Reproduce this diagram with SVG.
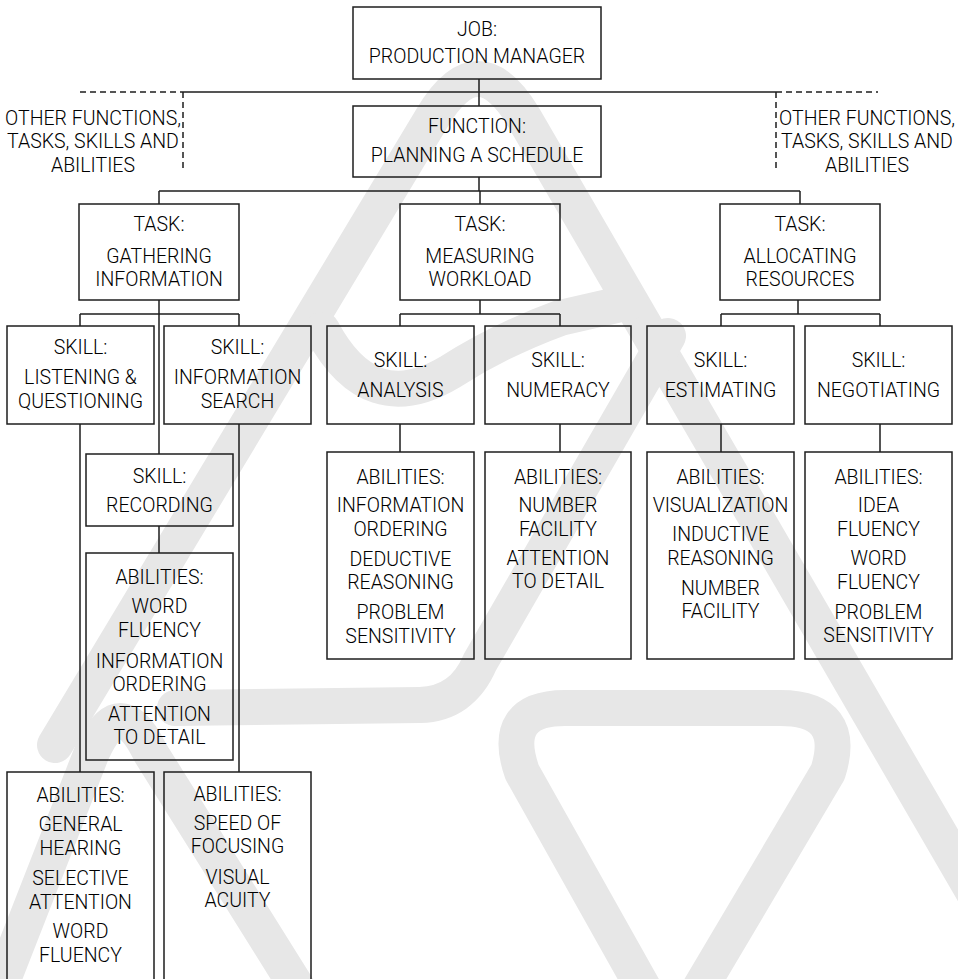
<svg xmlns="http://www.w3.org/2000/svg" width="958" height="979" viewBox="0 0 958 979">
  <style>
    .mark { fill: none; stroke: #e7e7e7; stroke-width: 36; stroke-linecap: round; stroke-linejoin: round; }
    .box { fill: none; stroke: #1e1e1e; stroke-width: 1.5; }
    .wire { fill: none; stroke: #1e1e1e; stroke-width: 1.5; }
    .dash { fill: none; stroke: #1e1e1e; stroke-width: 1.5; stroke-dasharray: 6 4; }
    text { font-family: Roboto, "Liberation Sans", Arial, sans-serif; font-size: 19.5px; font-weight: 300; fill: #000000; text-anchor: middle; }
  </style>

  <rect width="958" height="979" fill="#ffffff"/>

  <!-- background emblem strokes -->
  <g id="emblem">
    <path class="mark" d="M 55,745 L 432,118 Q 478,40 524,118 L 1010,955"/>
    <path class="mark" d="M 322,330 Q 370,420 450,372 Q 500,340 560,318 L 630,302"/>
    <path class="mark" d="M 668,336 L 480,662 Q 462,704 420,705 L 175,708"/>
    <path class="mark" d="M -5,1000 L 92,752 Q 120,690 150,752 L 305,1000"/>
    <path class="mark" d="M 650,1000 L 522,772 Q 500,708 565,708 L 780,708 Q 848,708 828,772 L 690,1005"/>
  </g>

  <!-- connectors -->
  <g id="connectors">
    <path class="wire" d="M 479,79 V 106 M 183,92 H 776"/>
    <path class="dash" d="M 80,92 H 183 M 183,92 V 172 M 776,92 H 878 M 776,92 V 172"/>
    <path class="wire" d="M 479,177 V 191 M 159,191 H 800 M 159,191 V 204 M 480,191 V 204 M 800,191 V 204"/>
    <path class="wire" d="M 159,300 V 454 M 80,314 H 239 M 80,314 V 326 M 239,314 V 326"/>
    <path class="wire" d="M 480,300 V 314 M 400,314 H 560 M 400,314 V 326 M 560,314 V 326"/>
    <path class="wire" d="M 798,300 V 314 M 721,314 H 880 M 721,314 V 326 M 880,314 V 326"/>
    <path class="wire" d="M 400,424 V 452 M 560,424 V 452 M 721,424 V 452 M 880,424 V 452"/>
    <path class="wire" d="M 80,424 V 772 M 239,424 V 772 M 159,526 V 553"/>
  </g>

  <g id="job">
    <rect class="box" x="353" y="7" width="248" height="72"/>
    <text x="477" y="36">JOB:</text>
    <text x="477" y="63">PRODUCTION MANAGER</text>
  </g>

  <g id="function">
    <rect class="box" x="353" y="106" width="248" height="71"/>
    <text x="477" y="133">FUNCTION:</text>
    <text x="477" y="162">PLANNING A SCHEDULE</text>
  </g>

  <g id="other-left">
    <text x="93" y="125">OTHER FUNCTIONS,</text>
    <text x="93" y="148">TASKS, SKILLS AND</text>
    <text x="93" y="172">ABILITIES</text>
  </g>

  <g id="other-right">
    <text x="867" y="125">OTHER FUNCTIONS,</text>
    <text x="867" y="148">TASKS, SKILLS AND</text>
    <text x="867" y="172">ABILITIES</text>
  </g>

  <g id="task-gathering">
    <rect class="box" x="79" y="204" width="160" height="96"/>
    <text x="159" y="231">TASK:</text>
    <text x="159" y="262.5">GATHERING</text>
    <text x="159" y="285.5">INFORMATION</text>
  </g>

  <g id="task-measuring">
    <rect class="box" x="400" y="204" width="160" height="96"/>
    <text x="480" y="231">TASK:</text>
    <text x="480" y="262.5">MEASURING</text>
    <text x="480" y="285.5">WORKLOAD</text>
  </g>

  <g id="task-allocating">
    <rect class="box" x="720" y="204" width="160" height="96"/>
    <text x="800" y="231">TASK:</text>
    <text x="800" y="262.5">ALLOCATING</text>
    <text x="800" y="285.5">RESOURCES</text>
  </g>

  <g id="skill-listening">
    <rect class="box" x="7" y="326" width="147" height="98"/>
    <text x="80.5" y="354">SKILL:</text>
    <text x="80.5" y="384">LISTENING &amp;</text>
    <text x="80.5" y="407.5">QUESTIONING</text>
  </g>

  <g id="skill-search">
    <rect class="box" x="164" y="326" width="147" height="98"/>
    <text x="237.5" y="354">SKILL:</text>
    <text x="237.5" y="384">INFORMATION</text>
    <text x="237.5" y="407.5">SEARCH</text>
  </g>

  <g id="skill-analysis">
    <rect class="box" x="327" y="326" width="147" height="98"/>
    <text x="400.5" y="366.5">SKILL:</text>
    <text x="400.5" y="396.5">ANALYSIS</text>
  </g>

  <g id="skill-numeracy">
    <rect class="box" x="485" y="326" width="146" height="98"/>
    <text x="558" y="366.5">SKILL:</text>
    <text x="558" y="396.5">NUMERACY</text>
  </g>

  <g id="skill-estimating">
    <rect class="box" x="647" y="326" width="147" height="98"/>
    <text x="720.5" y="366.5">SKILL:</text>
    <text x="720.5" y="396.5">ESTIMATING</text>
  </g>

  <g id="skill-negotiating">
    <rect class="box" x="805" y="326" width="147" height="98"/>
    <text x="878.5" y="366.5">SKILL:</text>
    <text x="878.5" y="396.5">NEGOTIATING</text>
  </g>

  <g id="skill-recording">
    <rect class="box" x="86" y="454" width="147" height="72"/>
    <text x="159.5" y="482.5">SKILL:</text>
    <text x="159.5" y="511.5">RECORDING</text>
  </g>

  <g id="abilities-recording">
    <rect class="box" x="86" y="553" width="147" height="207"/>
    <text x="159.5" y="584">ABILITIES:</text>
    <text x="159.5" y="613">WORD</text>
    <text x="159.5" y="637">FLUENCY</text>
    <text x="159.5" y="667.5">INFORMATION</text>
    <text x="159.5" y="691">ORDERING</text>
    <text x="159.5" y="720.5">ATTENTION</text>
    <text x="159.5" y="744">TO DETAIL</text>
  </g>

  <g id="abilities-analysis">
    <rect class="box" x="327" y="452" width="147" height="207"/>
    <text x="400.5" y="484">ABILITIES:</text>
    <text x="400.5" y="512">INFORMATION</text>
    <text x="400.5" y="536">ORDERING</text>
    <text x="400.5" y="565.5">DEDUCTIVE</text>
    <text x="400.5" y="589">REASONING</text>
    <text x="400.5" y="619">PROBLEM</text>
    <text x="400.5" y="643">SENSITIVITY</text>
  </g>

  <g id="abilities-numeracy">
    <rect class="box" x="485" y="452" width="146" height="207"/>
    <text x="558" y="484">ABILITIES:</text>
    <text x="558" y="512">NUMBER</text>
    <text x="558" y="535.5">FACILITY</text>
    <text x="558" y="564.5">ATTENTION</text>
    <text x="558" y="588">TO DETAIL</text>
  </g>

  <g id="abilities-estimating">
    <rect class="box" x="647" y="452" width="147" height="207"/>
    <text x="720.5" y="484">ABILITIES:</text>
    <text x="720.5" y="512">VISUALIZATION</text>
    <text x="720.5" y="541">INDUCTIVE</text>
    <text x="720.5" y="565">REASONING</text>
    <text x="720.5" y="595">NUMBER</text>
    <text x="720.5" y="618">FACILITY</text>
  </g>

  <g id="abilities-negotiating">
    <rect class="box" x="805" y="452" width="147" height="207"/>
    <text x="878.5" y="484">ABILITIES:</text>
    <text x="878.5" y="512">IDEA</text>
    <text x="878.5" y="535.5">FLUENCY</text>
    <text x="878.5" y="565">WORD</text>
    <text x="878.5" y="588.5">FLUENCY</text>
    <text x="878.5" y="618.5">PROBLEM</text>
    <text x="878.5" y="642">SENSITIVITY</text>
  </g>

  <g id="abilities-listening">
    <path class="box" d="M 7,990 V 772 H 154 V 990"/>
    <text x="80.5" y="802">ABILITIES:</text>
    <text x="80.5" y="831">GENERAL</text>
    <text x="80.5" y="855">HEARING</text>
    <text x="80.5" y="885">SELECTIVE</text>
    <text x="80.5" y="908.5">ATTENTION</text>
    <text x="80.5" y="938">WORD</text>
    <text x="80.5" y="961.5">FLUENCY</text>
  </g>

  <g id="abilities-search">
    <path class="box" d="M 164,990 V 772 H 311 V 990"/>
    <text x="237.5" y="800.5">ABILITIES:</text>
    <text x="237.5" y="829.5">SPEED OF</text>
    <text x="237.5" y="853">FOCUSING</text>
    <text x="237.5" y="883.5">VISUAL</text>
    <text x="237.5" y="907">ACUITY</text>
  </g>
</svg>
